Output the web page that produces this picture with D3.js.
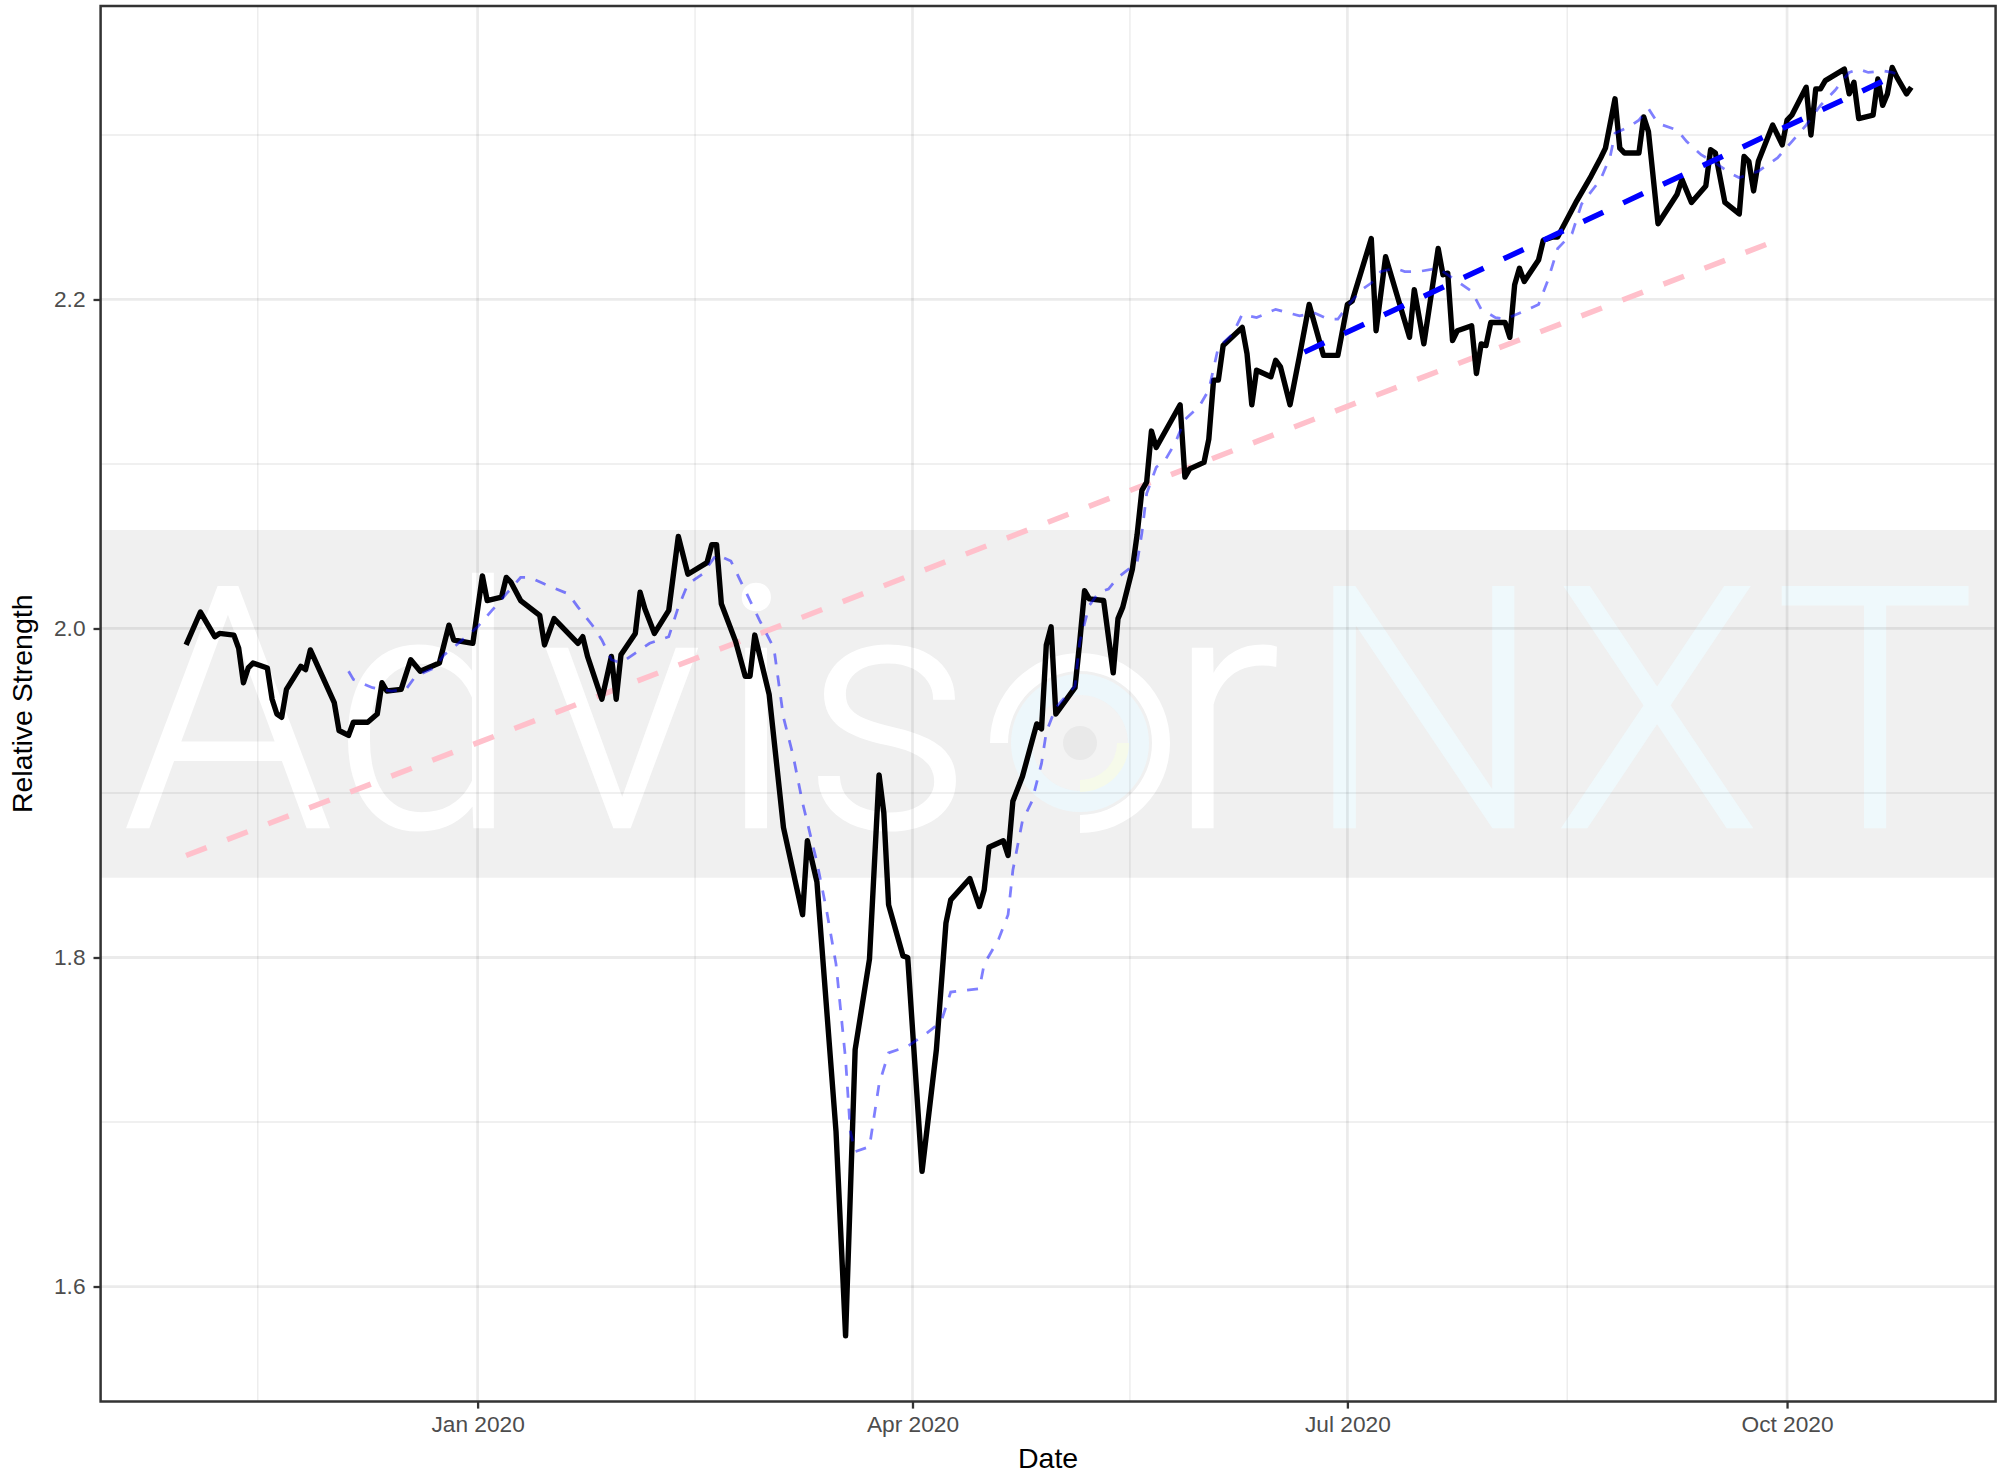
<!DOCTYPE html>
<html><head><meta charset="utf-8">
<script src="https://cdn.jsdelivr.net/npm/d3@7"></script>
<style>html,body{margin:0;padding:0;background:#fff;} svg{display:block;}</style>
</head><body>
<svg id="chart" width="1997" height="1475"></svg>
<script>
// ---------- data ----------
const rsDates = [
"2019-11-01","2019-11-04","2019-11-07","2019-11-08","2019-11-11","2019-11-12","2019-11-13","2019-11-14","2019-11-15","2019-11-18",
"2019-11-19","2019-11-20","2019-11-21","2019-11-22","2019-11-25","2019-11-26","2019-11-27","2019-12-02","2019-12-03","2019-12-05",
"2019-12-06","2019-12-09","2019-12-11","2019-12-12","2019-12-13","2019-12-16","2019-12-18","2019-12-20","2019-12-24","2019-12-26",
"2019-12-27","2019-12-31","2020-01-02","2020-01-03","2020-01-06","2020-01-07","2020-01-08","2020-01-10","2020-01-14","2020-01-15",
"2020-01-17","2020-01-22","2020-01-23","2020-01-24","2020-01-27","2020-01-29","2020-01-30","2020-01-31","2020-02-03","2020-02-04",
"2020-02-05","2020-02-07","2020-02-10","2020-02-12","2020-02-14","2020-02-18","2020-02-19","2020-02-20","2020-02-21","2020-02-24",
"2020-02-26","2020-02-27","2020-02-28","2020-03-02","2020-03-05","2020-03-09","2020-03-10","2020-03-12","2020-03-16","2020-03-18",
"2020-03-20","2020-03-23","2020-03-25","2020-03-26","2020-03-27","2020-03-30","2020-03-31","2020-04-03","2020-04-06","2020-04-08",
"2020-04-09","2020-04-13","2020-04-15","2020-04-16","2020-04-17","2020-04-20","2020-04-21","2020-04-22","2020-04-24","2020-04-27",
"2020-04-28","2020-04-29","2020-04-30","2020-05-01","2020-05-05","2020-05-06","2020-05-07","2020-05-08","2020-05-11","2020-05-13",
"2020-05-14","2020-05-15","2020-05-17","2020-05-18","2020-05-19","2020-05-20","2020-05-21","2020-05-22","2020-05-27","2020-05-28",
"2020-05-29","2020-06-01","2020-06-02","2020-06-03","2020-06-04","2020-06-05","2020-06-09","2020-06-10","2020-06-11","2020-06-12",
"2020-06-15","2020-06-16","2020-06-17","2020-06-19","2020-06-21","2020-06-23","2020-06-26","2020-06-29","2020-07-01","2020-07-02",
"2020-07-06","2020-07-07","2020-07-09","2020-07-14","2020-07-15","2020-07-17","2020-07-20","2020-07-21","2020-07-22","2020-07-23",
"2020-07-24","2020-07-27","2020-07-28","2020-07-29","2020-07-30","2020-07-31","2020-08-03","2020-08-04","2020-08-05","2020-08-06",
"2020-08-07","2020-08-10","2020-08-11","2020-08-13","2020-08-14","2020-08-18","2020-08-21","2020-08-23","2020-08-24","2020-08-26",
"2020-08-27","2020-08-28","2020-08-31","2020-09-01","2020-09-02","2020-09-04","2020-09-08","2020-09-09","2020-09-11","2020-09-14",
"2020-09-15","2020-09-16","2020-09-18","2020-09-21","2020-09-22","2020-09-23","2020-09-24","2020-09-25","2020-09-28","2020-09-30",
"2020-10-01","2020-10-02","2020-10-05","2020-10-06","2020-10-07","2020-10-08","2020-10-09","2020-10-13","2020-10-14","2020-10-15",
"2020-10-16","2020-10-19","2020-10-20","2020-10-21","2020-10-22","2020-10-23","2020-10-24","2020-10-26","2020-10-27"];
const rsValues = [
1.990,2.010,1.995,1.997,1.996,1.988,1.967,1.976,1.979,1.976,
1.957,1.948,1.946,1.963,1.977,1.975,1.987,1.955,1.938,1.935,
1.943,1.943,1.948,1.967,1.962,1.963,1.981,1.974,1.979,2.002,
1.993,1.991,2.032,2.017,2.019,2.031,2.028,2.017,2.008,1.990,
2.006,1.991,1.995,1.983,1.957,1.983,1.957,1.984,1.997,2.022,
2.012,1.997,2.011,2.056,2.033,2.040,2.051,2.051,2.015,1.992,
1.971,1.971,1.996,1.960,1.879,1.826,1.871,1.846,1.694,1.570,
1.744,1.799,1.911,1.888,1.832,1.801,1.800,1.670,1.744,1.821,
1.835,1.848,1.831,1.841,1.867,1.871,1.862,1.895,1.910,1.942,
1.939,1.990,2.001,1.948,1.964,1.992,2.023,2.018,2.017,1.973,
2.006,2.013,2.036,2.057,2.084,2.089,2.120,2.110,2.136,2.092,
2.097,2.101,2.115,2.151,2.151,2.172,2.183,2.167,2.136,2.157,
2.153,2.163,2.159,2.136,2.166,2.197,2.166,2.166,2.197,2.199,
2.237,2.181,2.226,2.177,2.206,2.173,2.231,2.215,2.216,2.175,
2.181,2.184,2.155,2.173,2.172,2.186,2.186,2.177,2.209,2.219,
2.211,2.224,2.236,2.238,2.238,2.260,2.275,2.286,2.292,2.322,
2.292,2.289,2.289,2.311,2.302,2.246,2.264,2.273,2.259,2.269,
2.291,2.289,2.259,2.252,2.287,2.284,2.266,2.284,2.306,2.294,
2.309,2.312,2.329,2.300,2.328,2.328,2.333,2.340,2.325,2.332,
2.310,2.312,2.334,2.318,2.325,2.341,2.335,2.325,2.329];

const maDates = [
"2019-12-05","2019-12-06","2019-12-10","2019-12-14","2019-12-17","2019-12-19","2019-12-23","2019-12-25","2019-12-28","2020-01-01",
"2020-01-04","2020-01-07","2020-01-10","2020-01-12","2020-01-15","2020-01-20","2020-01-22","2020-01-25","2020-01-27","2020-01-29",
"2020-01-31","2020-02-03","2020-02-06","2020-02-10","2020-02-12","2020-02-14","2020-02-17","2020-02-20","2020-02-23","2020-02-25",
"2020-02-27","2020-02-29","2020-03-03","2020-03-05","2020-03-07","2020-03-09","2020-03-12","2020-03-14","2020-03-16","2020-03-18",
"2020-03-19","2020-03-20","2020-03-23","2020-03-25","2020-03-27","2020-03-31","2020-04-04","2020-04-07","2020-04-09","2020-04-15",
"2020-04-16","2020-04-19","2020-04-21","2020-04-22","2020-04-24","2020-04-26","2020-04-28","2020-04-29","2020-05-01","2020-05-05",
"2020-05-06","2020-05-08","2020-05-10","2020-05-12","2020-05-14","2020-05-18","2020-05-19","2020-05-20","2020-05-22","2020-05-24",
"2020-05-26","2020-05-28","2020-05-31","2020-06-02","2020-06-04","2020-06-07","2020-06-09","2020-06-12","2020-06-16","2020-06-21",
"2020-06-24","2020-06-27","2020-06-29","2020-07-01","2020-07-04","2020-07-06","2020-07-08","2020-07-11","2020-07-13","2020-07-16",
"2020-07-20","2020-07-23","2020-07-27","2020-07-29","2020-08-01","2020-08-03","2020-08-07","2020-08-10","2020-08-12","2020-08-14",
"2020-08-17","2020-08-19","2020-08-23","2020-08-25","2020-08-26","2020-08-29","2020-08-31","2020-09-02","2020-09-04","2020-09-08",
"2020-09-10","2020-09-13","2020-09-16","2020-09-19","2020-09-21","2020-09-25","2020-09-29","2020-10-02","2020-10-05","2020-10-08",
"2020-10-11","2020-10-14","2020-10-16","2020-10-18","2020-10-21","2020-10-23","2020-10-25"];
const maValues = [
1.974,1.969,1.964,1.962,1.963,1.971,1.976,1.984,1.991,2.001,
2.011,2.021,2.031,2.031,2.027,2.021,2.013,2.002,1.993,1.981,
1.979,1.985,1.991,1.995,2.013,2.027,2.033,2.045,2.041,2.029,
2.017,2.005,1.988,1.946,1.923,1.894,1.858,1.829,1.796,1.738,
1.694,1.682,1.685,1.723,1.742,1.746,1.754,1.761,1.779,1.781,
1.796,1.811,1.826,1.853,1.883,1.895,1.918,1.937,1.952,1.965,
1.992,2.014,2.022,2.024,2.031,2.040,2.058,2.082,2.098,2.103,
2.113,2.127,2.135,2.145,2.171,2.179,2.191,2.189,2.194,2.190,
2.192,2.188,2.188,2.196,2.206,2.210,2.217,2.219,2.217,2.217,
2.219,2.213,2.205,2.194,2.189,2.188,2.193,2.197,2.212,2.231,
2.240,2.258,2.273,2.287,2.301,2.305,2.309,2.316,2.307,2.303,
2.296,2.288,2.283,2.277,2.274,2.278,2.286,2.296,2.306,2.318,
2.327,2.338,2.340,2.338,2.339,2.338,2.336];

const trendAllDates = ["2019-11-01","2020-09-28"];
const trendAllValues = [1.862, 2.235];
const trendRecentDates = ["2020-06-22","2020-10-25"];
const trendRecentValues = [2.168, 2.338];

const xTickDates = ["2020-01-01","2020-04-01","2020-07-01","2020-10-01"];
const xTickLabels = ["Jan 2020","Apr 2020","Jul 2020","Oct 2020"];
const xMinorDates = ["2019-11-16","2020-02-15T12:00","2020-05-16T12:00","2020-08-16"];
const yTicks = [1.6, 1.8, 2.0, 2.2];
const yTickLabels = ["1.6","1.8","2.0","2.2"];
const yMinor = [1.7, 1.9, 2.1, 2.3];
const xDomain = ["2019-10-14T02:40","2020-11-13T15:20"];
const yDomain = [1.5301, 2.3784];

// ---------- drawing ----------
const toDate = s => new Date(s.length === 10 ? s + "T00:00:00Z" : s + ":00Z");
const W = 1997, H = 1475;
const P = {left: 100.6, right: 1995.6, top: 6, bottom: 1401.5};
const svg = d3.select("#chart");
const x = d3.scaleUtc().domain(xDomain.map(toDate)).range([P.left, P.right]);
const y = d3.scaleLinear().domain(yDomain).range([P.bottom, P.top]);

svg.append("rect").attr("width", W).attr("height", H).attr("fill", "#fff");

// watermark band + text
const wm = svg.append("g");
wm.append("rect").attr("x", P.left).attr("y", 530).attr("width", P.right - P.left).attr("height", 347.7).attr("fill", "#F0F0F0");
const wmFont = "Roboto, 'Liberation Sans', sans-serif";
const letters = [
  {t:"A", cx:228, fill:"#ffffff"},
  {t:"d", cx:425, fill:"#ffffff"},
  {t:"v", cx:622, fill:"#ffffff"},
  {t:"i", cx:756, fill:"#ffffff"},
  {t:"s", cx:888, fill:"#ffffff"},
  {t:"r", cx:1224, fill:"#ffffff"},
  {t:"N", cx:1424, fill:"#EFF9FC"},
  {t:"X", cx:1657, fill:"#EFF9FC"},
  {t:"T", cx:1875, fill:"#EFF9FC"}
];
wm.selectAll("text.wm").data(letters).join("text")
  .attr("class","wm")
  .attr("x", d => d.cx).attr("y", 827.3)
  .attr("text-anchor","middle")
  .attr("font-family", wmFont).attr("font-weight", 300).attr("font-size", 338)
  .attr("stroke", d => d.fill).attr("stroke-width", 2)
  .attr("fill", d => d.fill)
  .text(d => d.t);
// logo "o"
const logo = wm.append("g").attr("transform","translate(1080,743)");
logo.append("circle").attr("r", 48).attr("fill", "#F3F3F3");
logo.append("path").attr("d", d3.arc()({innerRadius:48, outerRadius:69, startAngle:0, endAngle:2*Math.PI})).attr("fill","#EDF7FB");
logo.append("path").attr("d", d3.arc()({innerRadius:37, outerRadius:49, startAngle:Math.PI/2, endAngle:Math.PI})).attr("fill","#F6FAEA");
logo.append("circle").attr("r", 17).attr("fill", "#E9E9E9");
logo.append("path").attr("d", d3.arc()({innerRadius:72, outerRadius:90, startAngle:-Math.PI/2, endAngle:Math.PI})).attr("fill","#ffffff");

// grid
const grid = svg.append("g").attr("stroke","#000").attr("stroke-opacity",0.078);
grid.selectAll("line.ymin").data(yMinor).join("line").attr("class","ymin")
  .attr("x1",P.left).attr("x2",P.right).attr("y1",d=>y(d)).attr("y2",d=>y(d)).attr("stroke-width",1.38);
grid.selectAll("line.xmin").data(xMinorDates).join("line").attr("class","xmin")
  .attr("y1",P.top).attr("y2",P.bottom).attr("x1",d=>x(toDate(d))).attr("x2",d=>x(toDate(d))).attr("stroke-width",1.38);
grid.selectAll("line.ymaj").data(yTicks).join("line").attr("class","ymaj")
  .attr("x1",P.left).attr("x2",P.right).attr("y1",d=>y(d)).attr("y2",d=>y(d)).attr("stroke-width",2.76);
grid.selectAll("line.xmaj").data(xTickDates).join("line").attr("class","xmaj")
  .attr("y1",P.top).attr("y2",P.bottom).attr("x1",d=>x(toDate(d))).attr("x2",d=>x(toDate(d))).attr("stroke-width",2.76);

const line = d3.line().x(d => x(d[0])).y(d => y(d[1]));
const zipS = (ds, vs) => ds.map((d,i) => [toDate(d), vs[i]]);

// long-term trend (pink)
svg.append("path").datum(zipS(trendAllDates, trendAllValues)).attr("d", line)
  .attr("fill","none").attr("stroke","pink").attr("stroke-width",5.5).attr("stroke-dasharray","22,22");
// relative strength (black)
svg.append("path").datum(zipS(rsDates, rsValues)).attr("d", line)
  .attr("fill","none").attr("stroke","#000").attr("stroke-width",5.4).attr("stroke-linejoin","round");
// moving average (blue, half transparent)
svg.append("path").datum(zipS(maDates, maValues)).attr("d", line)
  .attr("fill","none").attr("stroke","blue").attr("stroke-opacity",0.5).attr("stroke-width",2.76).attr("stroke-dasharray","11,11");
// recent trend (blue)
svg.append("path").datum(zipS(trendRecentDates, trendRecentValues)).attr("d", line)
  .attr("fill","none").attr("stroke","blue").attr("stroke-width",5.5).attr("stroke-dasharray","22,22");

// panel border
svg.append("rect").attr("x",P.left).attr("y",P.top).attr("width",P.right-P.left).attr("height",P.bottom-P.top)
  .attr("fill","none").attr("stroke","#333333").attr("stroke-width",2.5);

// axes
const axFont = "'Liberation Sans', Arial, Helvetica, sans-serif";
const xAxis = svg.append("g").attr("transform",`translate(0,${P.bottom})`)
  .call(d3.axisBottom(x).tickValues(xTickDates.map(toDate)).tickFormat((d,i)=>xTickLabels[i]).tickSize(7.1).tickSizeOuter(0).tickPadding(7.4));
const yAxis = svg.append("g").attr("transform",`translate(${P.left},0)`)
  .call(d3.axisLeft(y).tickValues(yTicks).tickFormat((d,i)=>yTickLabels[i]).tickSize(7.1).tickSizeOuter(0).tickPadding(8));
[xAxis, yAxis].forEach(a => {
  a.select(".domain").remove();
  a.selectAll(".tick line").attr("stroke","#333333").attr("stroke-width",2.3);
  a.selectAll(".tick text").attr("fill","#4D4D4D").attr("font-family",axFont).attr("font-size",22.7);
});

svg.append("text").attr("x",(P.left+P.right)/2).attr("y",1468.4).attr("text-anchor","middle")
  .attr("font-family",axFont).attr("font-size",28.5).attr("fill","#000").text("Date");
svg.append("text").attr("transform",`translate(31.5,${(P.top+P.bottom)/2}) rotate(-90)`).attr("text-anchor","middle")
  .attr("font-family",axFont).attr("font-size",28.5).attr("fill","#000").text("Relative Strength");
</script>
</body></html>
